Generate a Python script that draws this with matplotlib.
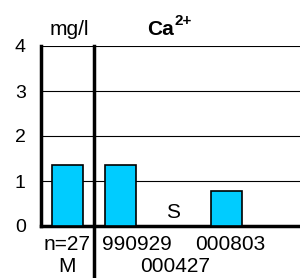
import matplotlib.pyplot as plt
import numpy as np

plt.rcParams['font.family'] = ['Liberation Sans', 'DejaVu Sans']

values = [1.36, 1.36, 0.0, 0.78, 0.0]
top_labels = ['n=27', '990929', '', '000803', '']
low_labels = ['M', '', '000427', '', '']
# label positions are nudged like in the original
label_pos = [0.0, 1.31, 2.03, 3.07, 4.0]
missing = {2: 'S'}

fig = plt.figure(figsize=(3.0, 2.78), dpi=100)
ax = fig.add_axes([41 / 300, 1 - 226 / 278, 265 / 300, 180 / 278])

x = np.arange(len(values))
ax.bar(x, values, width=0.6, color='#00CCFF', edgecolor='black', linewidth=1.2, zorder=3)
for i, s in missing.items():
    ax.text(i, 0.31, s, ha='center', va='center', fontsize=15)

ax.set_xlim(-0.5, len(values) - 0.5)
ax.set_ylim(0, 4)
ax.set_yticks([0, 1, 2, 3, 4])
ax.tick_params(axis='y', length=0, labelsize=14, pad=11)
ax.set_xticks([])
ax.grid(axis='y', color='black', linewidth=0.8, zorder=0)

for sp in ['top', 'right']:
    ax.spines[sp].set_visible(False)
ax.spines['left'].set_linewidth(2.5)
ax.spines['bottom'].set_linewidth(2.5)

for i in x:
    if top_labels[i]:
        ax.text(label_pos[i], -0.42, top_labels[i], ha='center', va='center', fontsize=15, clip_on=False)
    if low_labels[i]:
        ax.text(label_pos[i], -0.89, low_labels[i], ha='center', va='center', fontsize=15, clip_on=False)

# separator between mean and single samples
ax.plot([0.5, 0.5], [4, -1.2], color='black', linewidth=2.5, clip_on=False, zorder=4)

ax.text(0.04, 4.36, 'mg/l', ha='center', va='center', fontsize=15, clip_on=False)
ax.text(1.5, 4.36, 'Ca', ha='left', va='center', fontsize=15, fontweight='bold', clip_on=False)
ax.text(2.02, 4.56, '2+', ha='left', va='center', fontsize=11, fontweight='bold', clip_on=False)

fig.savefig('out.png', dpi=100)
